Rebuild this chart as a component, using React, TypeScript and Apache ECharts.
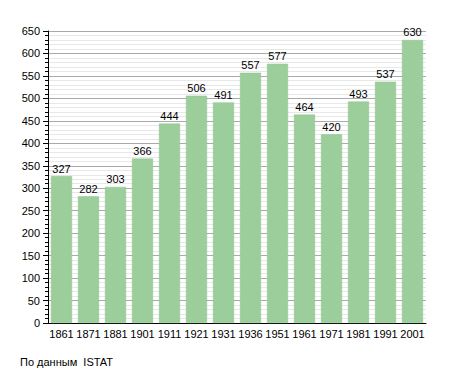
import React, { useEffect, useRef } from "react";
import * as echarts from "echarts";

const years = ["1861", "1871", "1881", "1901", "1911", "1921", "1931", "1936", "1951", "1961", "1971", "1981", "1991", "2001"];
const population = [327, 282, 303, 366, 444, 506, 491, 557, 577, 464, 420, 493, 537, 630];
const sourceNote = "По данным  ISTAT";

export default function App() {
  const ref = useRef<HTMLDivElement>(null);
  useEffect(() => {
    if (!ref.current) return;
    const chart = echarts.init(ref.current, undefined, { renderer: "svg" });
    chart.setOption({
      animation: false,
      backgroundColor: "#ffffff",
      textStyle: { fontFamily: "Liberation Sans, Arial, sans-serif" },
      grid: { left: 48, top: 31, width: 378, height: 292, containLabel: false },
      xAxis: {
        type: "category",
        data: years,
        axisLine: { show: true, lineStyle: { color: "#000", width: 1 } },
        axisTick: { show: false },
        axisLabel: { color: "#000", fontSize: 11, margin: 5, interval: 0 },
      },
      yAxis: {
        type: "value",
        min: 0,
        max: 650,
        interval: 50,
        minorTick: { show: true, splitNumber: 5, length: 3, lineStyle: { color: "#000" } },
        axisLine: { show: true, lineStyle: { color: "#000", width: 1 } },
        axisTick: { show: true, inside: false, length: 5, lineStyle: { color: "#000" } },
        axisLabel: { color: "#000", fontSize: 11, margin: 8 },
        splitLine: { show: true, lineStyle: { color: "#aaaaaa", width: 1 } },
        minorSplitLine: { show: true, lineStyle: { color: "#e8e8e8", width: 1 } },
      },
      series: [
        {
          type: "bar",
          data: population,
          barCategoryGap: "22%",
          itemStyle: { color: "#9cce9c", borderColor: "#8fc48f", borderWidth: 0.5 },
          label: { show: true, position: "top", color: "#000", fontSize: 11, distance: 2 },
        },
      ],
      graphic: [
        {
          type: "text",
          left: 20,
          top: 356,
          style: { text: sourceNote, fill: "#000", fontSize: 11, fontFamily: "Liberation Sans, Arial, sans-serif" },
        },
      ],
    });
    return () => chart.dispose();
  }, []);
  return <div ref={ref} style={{ width: 455, height: 373, position: "absolute", left: 0, top: 0 }} />;
}
